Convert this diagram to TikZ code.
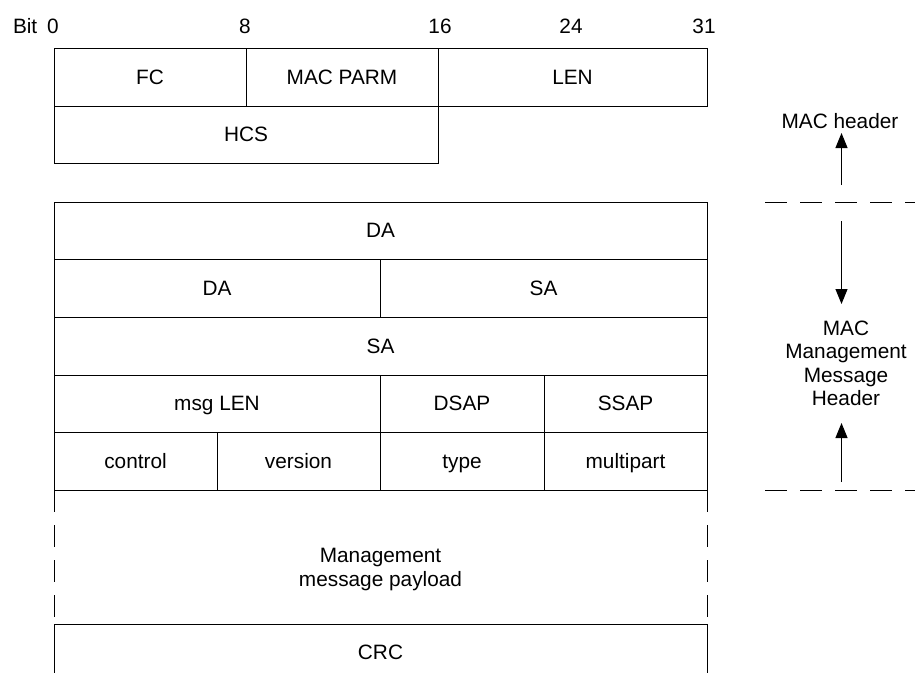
\documentclass[tikz,border=0pt]{standalone}
\usepackage{fontspec}
\setmainfont{Liberation Sans}
\usetikzlibrary{arrows.meta}
\newcommand\lblfont{\fontsize{20.8}{23.5}\selectfont}
\tikzset{
  txt/.style={text height=14.9pt, text depth=0pt},
  cell/.style={draw, line width=1pt, inner sep=0pt, outer sep=0pt, font=\lblfont, txt},
  lbl/.style={inner sep=0pt, outer sep=0pt, font=\lblfont},
  rule/.style={line width=1pt},
  dsh/.style={line width=1pt, dash pattern=on 21.5pt off 13.5pt},
  arr/.style={line width=1pt, -{Triangle[length=15pt,width=12pt]}}
}
\begin{document}
\begin{tikzpicture}[x=1pt,y=-1pt]
\useasboundingbox (0,0) rectangle (915,672);

% bit scale
\node[lbl, anchor=base west] (bit) at (13,33) {Bit};
\node[lbl, anchor=base] (b0) at (53,33) {0};
\node[lbl, anchor=base] (b8) at (245,33) {8};
\node[lbl, anchor=base] (b16) at (440,33) {16};
\node[lbl, anchor=base] (b24) at (571,33) {24};
\node[lbl, anchor=base] (b31) at (704,33) {31};

% MAC header
\node[cell, minimum width=192pt, minimum height=58pt] (fc) at (150,77) {FC};
\node[cell, minimum width=192pt, minimum height=58pt] (parm) at (342,77) {MAC PARM};
\node[cell, minimum width=269pt, minimum height=58pt] (len) at (572.5,77) {LEN};
\node[cell, minimum width=384pt, minimum height=57pt] (hcs) at (246,134.5) {HCS};

% MAC management message header
\node[cell, minimum width=653pt, minimum height=57pt] (da1) at (380.5,230.5) {DA};
\node[cell, minimum width=326pt, minimum height=58pt] (da2) at (217,288) {DA};
\node[cell, minimum width=327pt, minimum height=58pt] (sa1) at (543.5,288) {SA};
\node[cell, minimum width=653pt, minimum height=58pt] (sa2) at (380.5,346) {SA};
\node[cell, minimum width=326pt, minimum height=57pt] (msglen) at (217,403.5) {msg LEN};
\node[cell, minimum width=164pt, minimum height=57pt] (dsap) at (462,403.5) {DSAP};
\node[cell, minimum width=163pt, minimum height=57pt] (ssap) at (625.5,403.5) {SSAP};
\node[cell, minimum width=163pt, minimum height=58pt] (control) at (135.5,461) {control};
\node[cell, minimum width=163pt, minimum height=58pt] (version) at (298.5,461) {version};
\node[cell, minimum width=164pt, minimum height=58pt] (type) at (462,461) {type};
\node[cell, minimum width=163pt, minimum height=58pt] (multipart) at (625.5,461) {multipart};

% payload
\draw[dsh] (54,490) -- (54,616.5);
\draw[dsh] (707,490) -- (707,616.5);
\node[lbl, align=center] (payload) at (380.5,569.4) {Management\\message payload};

% CRC
\draw[rule] (54,673) -- (54,624) -- (707,624) -- (707,673);
\node[lbl, txt] (crc) at (380.5,652.5) {CRC};

% right-hand annotations
\draw[dsh] (765,202) -- (916,202);
\draw[dsh] (765,490) -- (916,490);
\node[lbl, txt, minimum height=24pt] (mach) at (840,121) {MAC header};
\node[lbl, align=center, minimum height=119pt] (mmh) at (846,363.5) {MAC\\Management\\Message\\Header};
\coordinate (h1) at (841.5,185);
\coordinate (m1) at (841.5,221);
\coordinate (m3) at (841.5,482);
\draw[arr] (h1) -- (h1 |- mach.south);
\draw[arr] (m1) -- (m1 |- mmh.north);
\draw[arr] (m3) -- (m3 |- mmh.south);
\end{tikzpicture}
\end{document}
